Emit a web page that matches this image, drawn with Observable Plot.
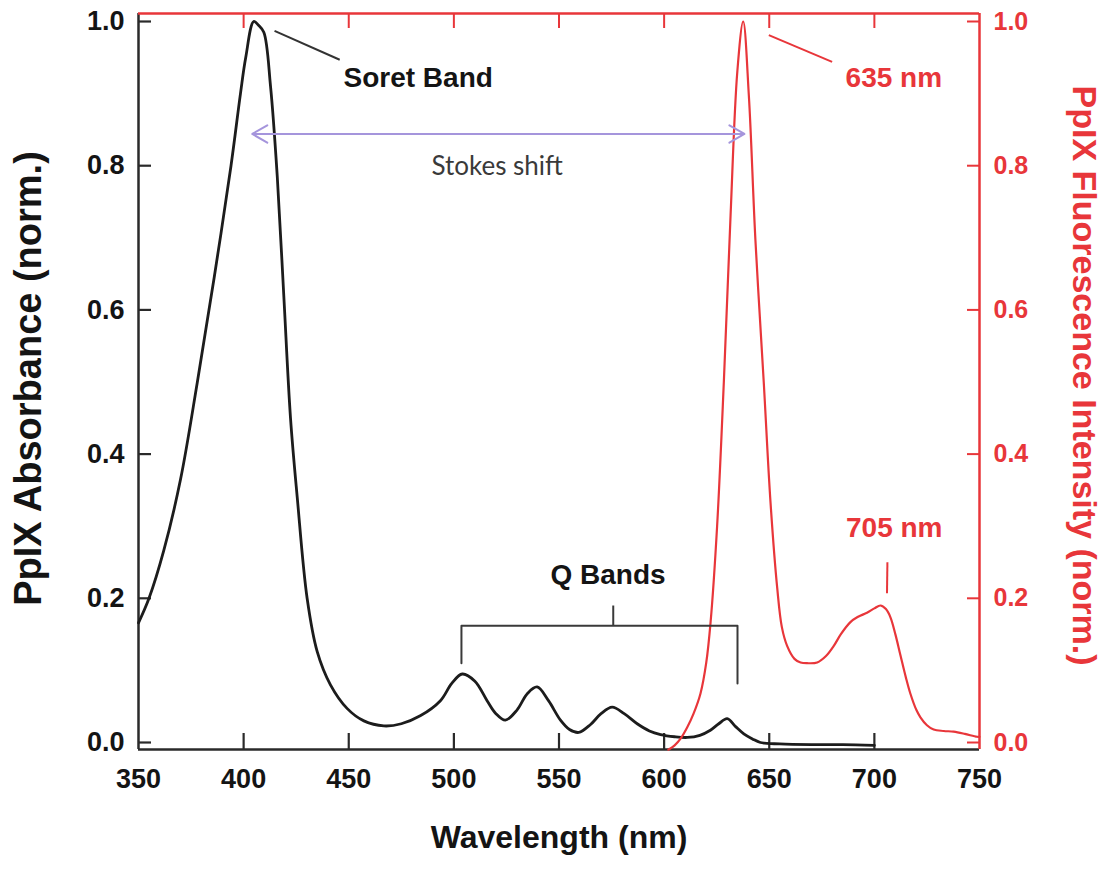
<!DOCTYPE html>
<html><head><meta charset="utf-8">
<script src="https://cdn.jsdelivr.net/npm/d3@7"></script>
<script src="https://cdn.jsdelivr.net/npm/@observablehq/plot@0.6"></script>
<style>body{margin:0;background:#fff} svg{display:block}</style>
</head><body><div id="chart"></div>
<script>
// PpIX absorbance spectrum (black)
const absWavelength = [350,355,362,370,378,386,394,398.5,401,404.8,407,409.6,412.8,416,419.1,422.3,425.5,430.2,435,441.3,449.3,457.2,466.7,475,484,493.6,499,504,510,515.8,520,524.5,530,535,539.6,545,550.7,555,559.4,565,570,575.3,581,587.2,593,598.3,605,611,617,622,626,630,634,637.9,642,645.8,655,670,685,700];
const absValue = [0.166,0.2,0.266,0.365,0.5,0.645,0.8,0.9,0.95,1.0,0.995,0.985,0.91,0.785,0.62,0.45,0.34,0.2,0.126,0.08,0.047,0.03,0.023,0.026,0.037,0.058,0.082,0.095,0.085,0.058,0.04,0.031,0.045,0.068,0.077,0.058,0.031,0.018,0.014,0.025,0.04,0.049,0.04,0.026,0.016,0.011,0.008,0.007,0.01,0.017,0.026,0.033,0.022,0.012,0.005,0.0,-0.002,-0.003,-0.003,-0.004];

// PpIX fluorescence spectrum (red)
const fluWavelength = [602,605,608,611,614,617.3,620,622.1,625.2,628.4,631.6,634.8,637.6,640.3,643.4,647.4,650.6,653.8,656,658.5,662,664.9,668,672.8,677,680.7,684,688.6,692,696.5,700,702.9,705.5,707.6,710,712.4,715,717.1,720,721.9,725,728.2,733,737.7,743,748.8,750];
const fluValue = [-0.01,-0.004,0.006,0.021,0.04,0.068,0.11,0.167,0.3,0.5,0.731,0.93,1.0,0.897,0.698,0.499,0.333,0.214,0.16,0.134,0.116,0.111,0.11,0.111,0.12,0.134,0.15,0.167,0.174,0.18,0.186,0.19,0.185,0.174,0.15,0.121,0.09,0.068,0.045,0.035,0.024,0.018,0.016,0.015,0.012,0.008,0.008];

const xTicks = [350,400,450,500,550,600,650,700,750];
const xInnerTicks = [400,450,500,550,600,650,700];
const yTicks = [0,0.2,0.4,0.6,0.8,1.0];

// annotations (data units)
const boldLabelsStart = [
  {text:"Soret Band", x:447.5, y:0.921, color:"#141414"},
  {text:"635 nm", x:686.3, y:0.9216, color:"#e8363a"},
  {text:"705 nm", x:686.5, y:0.297, color:"#e8363a"}
];
const qLabel = [{text:"Q Bands", x:573.3, y:0.2316}];
const stokesLabel = [{text:"Stokes shift", x:520.6, y:0.798}];
const leaders = [
  {x1:414.7, y1:0.987, x2:445.7, y2:0.947, color:"#333"},
  {x1:649.8, y1:0.981, x2:679.9, y2:0.944, color:"#e8363a"},
  {x1:706.2, y1:0.250, x2:706.0, y2:0.207, color:"#e8363a"}
];
const qBracket = [{x:503.6,y:0.110},{x:503.6,y:0.162},{x:634.9,y:0.162},{x:634.9,y:0.082}];
const qStem = [{x1:575.8, y1:0.162, x2:575.8, y2:0.19}];
const stokes = {from:404.1, to:638.2, y:0.844};

const absData = absWavelength.map((w,i)=>({w, v:absValue[i]}));
const fluData = fluWavelength.map((w,i)=>({w, v:fluValue[i]}));

const RED = "#e8363a", DARK = "#2a2a2a";
const X0 = 350, X1 = 750, Y0 = -0.0097, Y1 = 1.0111;
const W = 1109, H = 872, mL = 138, mR = 130, mT = 13, mB = 123;
const pxX = (X1 - X0) / (W - mL - mR);
const pxY = (Y1 - Y0) / (H - mT - mB);
const stokesMid = (stokes.from + stokes.to) / 2;

const chart = Plot.plot({
  width: W, height: H,
  marginLeft: mL, marginRight: mR, marginTop: mT, marginBottom: mB,
  style: {fontFamily: "'Liberation Sans', Arial, sans-serif", background: "#fff"},
  x: {domain: [X0, X1], axis: null},
  y: {domain: [Y0, Y1], axis: null},
  marks: [
    // frame
    Plot.ruleX([X0], {stroke: DARK, strokeWidth: 2.5}),
    Plot.ruleY([Y0], {stroke: DARK, strokeWidth: 2.5}),
    Plot.ruleY([Y1], {stroke: RED, strokeWidth: 2.5}),
    Plot.ruleX([X1], {stroke: RED, strokeWidth: 2.5}),
    // inward ticks
    Plot.ruleX(xInnerTicks, {x: d=>d, y1: Y0, y2: Y0 + 16*pxY, stroke: DARK, strokeWidth: 2.2}),
    Plot.ruleX(xInnerTicks, {x: d=>d, y1: Y1, y2: Y1 - 15*pxY, stroke: RED, strokeWidth: 2}),
    Plot.ruleY(yTicks, {y: d=>d, x1: X0, x2: X0 + 13*pxX, stroke: DARK, strokeWidth: 2.2}),
    Plot.ruleY(yTicks, {y: d=>d, x1: X1, x2: X1 - 12*pxX, stroke: RED, strokeWidth: 2}),
    // axes labels
    Plot.axisX(xTicks, {anchor: "bottom", tickSize: 0, tickPadding: 19, fontSize: 27, fontWeight: "bold", fill: "#141414", tickFormat: d=>String(d), label: null}),
    Plot.axisY(yTicks, {anchor: "left", tickSize: 0, tickPadding: 14, fontSize: 27, fontWeight: "bold", fill: "#141414", tickFormat: d=>d.toFixed(1), label: null}),
    Plot.axisY(yTicks, {anchor: "right", tickSize: 0, tickPadding: 14, fontSize: 25, fontWeight: "bold", fill: RED, tickFormat: d=>d.toFixed(1), label: null}),
    // titles
    Plot.text(["Wavelength (nm)"], {text: d=>d, frameAnchor: "bottom", textAnchor: "middle", dy: 98, fontSize: 32, fontWeight: "bold", fill: "#141414"}),
    Plot.text(["PpIX Absorbance (norm.)"], {text: d=>d, frameAnchor: "left", textAnchor: "middle", dx: -110, dy: -3, rotate: -90, fontSize: 38, fontWeight: "bold", fill: "#141414"}),
    Plot.text(["PpIX Fluorescence Intensity (norm.)"], {text: d=>d, frameAnchor: "right", textAnchor: "middle", dx: 104, dy: -6, rotate: 90, fontSize: 34, fontWeight: "bold", fill: RED}),
    // spectra
    Plot.line(absData, {x: "w", y: "v", stroke: "#1c1c1c", strokeWidth: 2.8, curve: "catmull-rom"}),
    Plot.line(fluData, {x: "w", y: "v", stroke: RED, strokeWidth: 2.2, curve: "catmull-rom"}),
    // annotations
    Plot.link(leaders, {x1: "x1", y1: "y1", x2: "x2", y2: "y2", stroke: d=>d.color, strokeWidth: 2}),
    Plot.line(qBracket, {x: "x", y: "y", stroke: "#3a3a3a", strokeWidth: 2}),
    Plot.link(qStem, {x1: "x1", y1: "y1", x2: "x2", y2: "y2", stroke: "#3a3a3a", strokeWidth: 2}),
    Plot.arrow([{a: stokesMid, b: stokes.from}, {a: stokesMid, b: stokes.to}], {x1: "a", x2: "b", y1: stokes.y, y2: stokes.y, stroke: "#a595dc", strokeWidth: 2, headLength: 13}),
    Plot.text(boldLabelsStart, {x: "x", y: "y", text: "text", fill: d=>d.color, textAnchor: "start", fontSize: 28, fontWeight: "bold"}),
    Plot.text(qLabel, {x: "x", y: "y", text: "text", fill: "#141414", fontSize: 28, fontWeight: "bold"}),
    Plot.text(stokesLabel, {x: "x", y: "y", text: "text", fill: "#3a3a3a", fontSize: 26, fontFamily: "Lato, 'Liberation Sans', sans-serif"})
  ]
});
document.getElementById("chart").appendChild(chart);
</script>
</body></html>
